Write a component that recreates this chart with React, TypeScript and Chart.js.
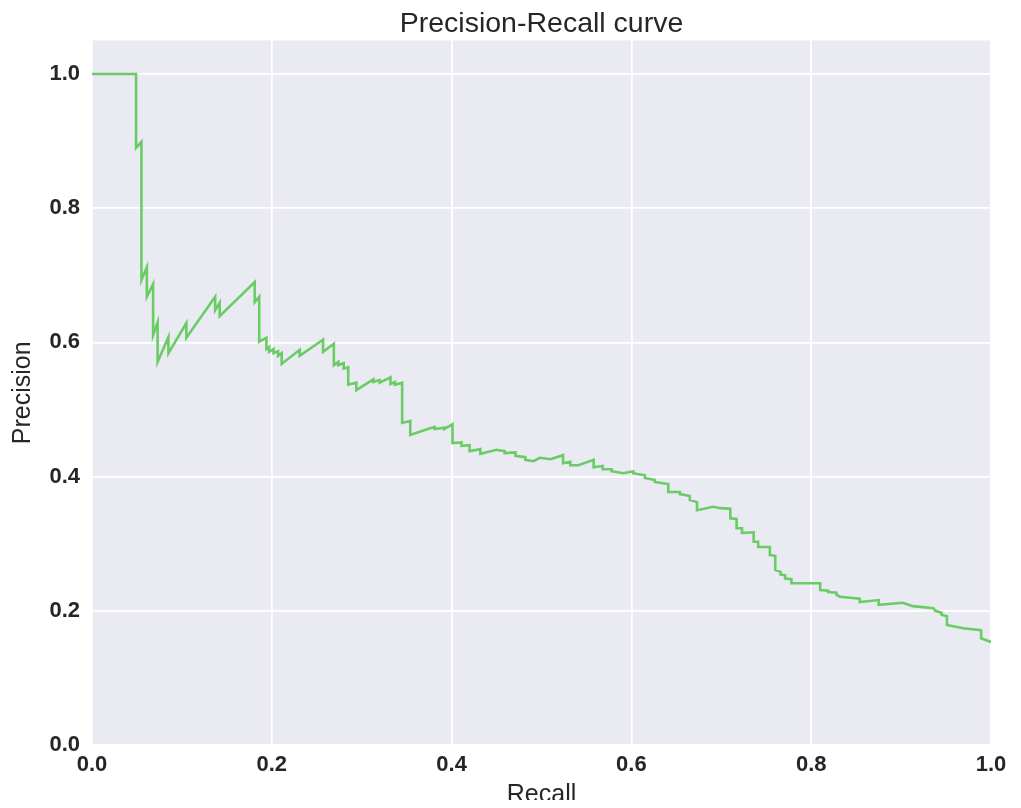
import React, { useEffect, useRef } from "react";
import { Chart, registerables } from "chart.js";

Chart.register(...registerables);

const recall: number[] = [
  0, 0.049, 0.049, 0.055, 0.055, 0.061, 0.061, 0.068, 0.068, 0.073, 0.073, 0.085, 0.085, 0.105, 0.105,
  0.137, 0.137, 0.142, 0.142, 0.181, 0.181, 0.186, 0.186, 0.194, 0.194, 0.197, 0.197, 0.202, 0.202,
  0.207, 0.207, 0.211, 0.211, 0.231, 0.231, 0.257, 0.257, 0.269, 0.269, 0.274, 0.274, 0.28, 0.28,
  0.285, 0.285, 0.294, 0.294, 0.313, 0.313, 0.32, 0.32, 0.332, 0.332, 0.337, 0.337, 0.345, 0.345,
  0.354, 0.354, 0.376, 0.381, 0.381, 0.392, 0.392, 0.401, 0.401, 0.411, 0.411, 0.42, 0.42, 0.432,
  0.432, 0.45, 0.459, 0.459, 0.471, 0.471, 0.482, 0.482, 0.491, 0.498, 0.51, 0.524, 0.524, 0.532,
  0.532, 0.541, 0.558, 0.558, 0.568, 0.568, 0.578, 0.578, 0.591, 0.602, 0.602, 0.615, 0.615, 0.626,
  0.626, 0.641, 0.641, 0.654, 0.654, 0.665, 0.665, 0.673, 0.673, 0.691, 0.699, 0.71, 0.71, 0.717,
  0.717, 0.723, 0.723, 0.736, 0.736, 0.741, 0.741, 0.754, 0.754, 0.76, 0.76, 0.766, 0.766, 0.771,
  0.771, 0.778, 0.778, 0.81, 0.81, 0.819, 0.819, 0.828, 0.828, 0.832, 0.854, 0.854, 0.875, 0.875,
  0.902, 0.913, 0.936, 0.938, 0.945, 0.945, 0.951, 0.951, 0.969, 0.989, 0.989, 0.999, 1.0,
];

const precision: number[] = [
  1.0, 1.0, 0.89, 0.899, 0.693, 0.712, 0.668, 0.687, 0.611, 0.63, 0.571, 0.608, 0.584, 0.629, 0.607,
  0.668, 0.648, 0.659, 0.639, 0.69, 0.66, 0.668, 0.601, 0.607, 0.59, 0.593, 0.586, 0.59, 0.584,
  0.587, 0.58, 0.584, 0.568, 0.589, 0.58, 0.604, 0.586, 0.598, 0.566, 0.571, 0.566, 0.569, 0.561,
  0.563, 0.537, 0.54, 0.529, 0.545, 0.541, 0.544, 0.54, 0.548, 0.538, 0.541, 0.537, 0.54, 0.48,
  0.483, 0.462, 0.472, 0.474, 0.471, 0.473, 0.471, 0.478, 0.45, 0.451, 0.446, 0.447, 0.438, 0.441,
  0.434, 0.44, 0.438, 0.435, 0.436, 0.431, 0.429, 0.425, 0.423, 0.428, 0.426, 0.432, 0.42, 0.422,
  0.417, 0.417, 0.425, 0.414, 0.416, 0.411, 0.411, 0.408, 0.405, 0.408, 0.405, 0.402, 0.398, 0.395,
  0.392, 0.389, 0.377, 0.377, 0.374, 0.371, 0.365, 0.362, 0.35, 0.355, 0.353, 0.352, 0.338, 0.337,
  0.323, 0.323, 0.316, 0.317, 0.303, 0.303, 0.295, 0.295, 0.283, 0.282, 0.261, 0.258, 0.254, 0.253,
  0.248, 0.247, 0.241, 0.241, 0.231, 0.23, 0.228, 0.227, 0.224, 0.221, 0.218, 0.213, 0.216, 0.209,
  0.212, 0.207, 0.204, 0.2, 0.197, 0.194, 0.192, 0.179, 0.174, 0.171, 0.159, 0.154, 0.154,
];

const xTicks: number[] = [0, 0.2, 0.4, 0.6, 0.8, 1.0];
const yTicks: number[] = [0, 0.2, 0.4, 0.6, 0.8, 1.0];

const TITLE = "Precision-Recall curve";
const X_LABEL = "Recall";
const Y_LABEL = "Precision";

const FONT = "'Liberation Sans', Arial, sans-serif";
const TEXT = "#262626";

const bgPlugin = {
  id: "plotBg",
  beforeDraw(chart: any) {
    const { ctx, chartArea } = chart;
    if (!chartArea) return;
    ctx.save();
    ctx.fillStyle = "#EAEAF2";
    ctx.fillRect(chartArea.left, chartArea.top, chartArea.right - chartArea.left, chartArea.bottom - chartArea.top);
    ctx.restore();
  },
};

function clearScalePadding(scale: any) {
  scale.paddingLeft = 0;
  scale.paddingRight = 0;
  scale.paddingTop = 0;
  scale.paddingBottom = 0;
}

export default function App() {
  const ref = useRef<HTMLCanvasElement | null>(null);

  useEffect(() => {
    if (!ref.current) return;
    const points = recall.map((r, i) => ({ x: r, y: precision[i] }));
    const chart = new Chart(ref.current, {
      type: "scatter",
      data: {
        datasets: [
          {
            data: points,
            showLine: true,
            borderColor: "#6ACC65",
            backgroundColor: "#6ACC65",
            borderWidth: 2.6,
            pointRadius: 0,
            tension: 0,
          },
        ],
      },
      options: {
        animation: false,
        responsive: true,
        maintainAspectRatio: false,
        layout: { padding: { left: 0, right: 22, top: 0, bottom: 0 } },
        plugins: {
          legend: { display: false },
          tooltip: { enabled: false },
          title: {
            display: true,
            text: TITLE,
            fullSize: false,
            color: TEXT,
            font: { family: FONT, size: 28.5, weight: "normal", lineHeight: 1 },
            padding: { top: 2, bottom: 2 },
          },
        },
        scales: {
          x: {
            type: "linear",
            min: 0,
            max: 1,
            afterBuildTicks: (scale: any) => {
              scale.ticks = xTicks.map((v) => ({ value: v }));
            },
            afterFit: (scale: any) => {
              scale.height = 55;
              clearScalePadding(scale);
            },
            grid: { color: "#FFFFFF", lineWidth: 1.8, drawTicks: false },
            border: { display: false },
            ticks: {
              color: TEXT,
              padding: 7,
              font: { family: FONT, size: 22, weight: "bold" },
              callback: (v: any) => Number(v).toFixed(1),
            },
            title: {
              display: true,
              text: X_LABEL,
              color: TEXT,
              font: { family: FONT, size: 25, weight: "normal", lineHeight: 1 },
              padding: { top: 0, bottom: -8 },
            },
          },
          y: {
            type: "linear",
            min: 0,
            max: 1.05,
            afterBuildTicks: (scale: any) => {
              scale.ticks = yTicks.map((v) => ({ value: v }));
            },
            afterFit: (scale: any) => {
              scale.width = 84;
              clearScalePadding(scale);
            },
            grid: { color: "#FFFFFF", lineWidth: 1.8, drawTicks: false },
            border: { display: false },
            ticks: {
              color: TEXT,
              padding: 12,
              font: { family: FONT, size: 22, weight: "bold" },
              callback: (v: any) => Number(v).toFixed(1),
            },
            title: {
              display: true,
              text: Y_LABEL,
              color: TEXT,
              font: { family: FONT, size: 25, weight: "normal", lineHeight: 1 },
              padding: { top: 2.5, bottom: 0 },
            },
          },
        },
      },
      plugins: [bgPlugin],
    });
    return () => chart.destroy();
  }, []);

  return (
    <div style={{ width: "100%", height: 792, position: "relative" }}>
      <canvas ref={ref} />
    </div>
  );
}
